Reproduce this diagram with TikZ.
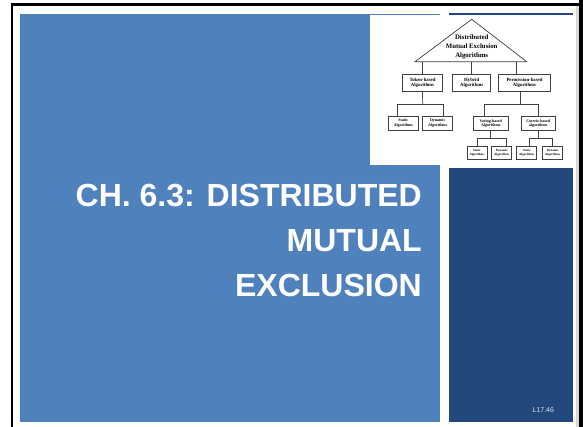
\documentclass[tikz,border=0pt]{standalone}
\usepackage{fontspec}
\setmainfont{Liberation Sans}
\newfontfamily\diagfont{Liberation Serif}
\definecolor{slideblue}{RGB}{79,129,189}
\definecolor{darkblue}{RGB}{35,72,124}
\begin{document}
\begin{tikzpicture}[x=1pt,y=-1pt,
  algbox/.style={draw=black!75, line width=0.7pt, fill=white, inner sep=0pt, align=center, minimum height=17.4pt, font=\diagfont\bfseries\fontsize{4.8}{5.5}\selectfont},
  subbox/.style={algbox, minimum height=14pt, font=\diagfont\bfseries\fontsize{4}{4.7}\selectfont},
  leafbox/.style={algbox, minimum width=20pt, minimum height=13.3pt, font=\diagfont\bfseries\fontsize{3.1}{4.5}\selectfont},
  link/.style={draw=black!75, line width=0.7pt},
  title/.style={anchor=base east, inner sep=0pt, text=white, font=\bfseries\fontsize{32}{32}\selectfont}]
\useasboundingbox (0,0) rectangle (583,427);
\fill[black] (11,3) rectangle (583,6);
\fill[black] (11,3) rectangle (13,427);
\fill[black!15] (576,6) rectangle (579,427);
\fill[black] (579,0) rectangle (583,427);
\fill[slideblue] (20,14) rectangle (440,422);
\fill[darkblue] (449,168) rectangle (573,422);
\fill[darkblue] (449,13.5) rectangle (573,15.5);
\fill[white] (370,15) rectangle (575,165);
\coordinate (apex) at (471.7,19.3);
\coordinate (tribase) at (471.7,61.7);
\draw[link] (apex) -- (415,61.7) -- (526.7,61.7) -- cycle;
\node[font=\diagfont\bfseries\fontsize{6.8}{8.8}\selectfont, align=center, inner sep=0pt] (root) at (471.7,47) {Distributed\\Mutual Exclusion\\Algorithms};
\node[algbox, minimum width=40.4pt] (token) at (422.5,83) {Token-based\\Algorithms};
\node[algbox, minimum width=38pt] (hybrid) at (471.7,83) {Hybrid\\Algorithms};
\node[algbox, minimum width=52.4pt] (perm) at (524.5,83) {Permission-based\\Algorithms};
\foreach \n in {token,hybrid} \draw[link] (\n.north) -- (\n.north |- tribase);
\draw[link] ([xshift=-8pt]perm.north) -- ([xshift=-8pt]perm.north |- tribase);
\node[subbox, minimum width=30pt] (tstatic) at (403.3,123) {Static\\Algorithms};
\node[subbox, minimum width=30pt] (tdynamic) at (437.7,123) {Dynamic\\Algorithms};
\node[subbox, minimum width=35pt] (voting) at (490.8,123.7) {Voting-based\\Algorithms};
\node[subbox, minimum width=34.3pt] (coterie) at (538.2,123.7) {Coterie-based\\algorithms};
\coordinate (tokbus) at (422.7,104.3);
\draw[link] (token.south) -- (tokbus);
\draw[link] ([xshift=-6pt]tstatic.north) |- (tokbus) -| ([xshift=5.6pt]tdynamic.north);
\coordinate (permbus) at (520,104.3);
\draw[link] ([xshift=-4.5pt]perm.south) -- (permbus);
\draw[link] ([xshift=-6.8pt]voting.north) |- (permbus) -| (coterie.north);
\node[leafbox] (vstatic) at (477,152.7) {Static\\Algorithms};
\node[leafbox] (vdynamic) at (501.7,152.7) {Dynamic\\Algorithms};
\node[leafbox] (cstatic) at (526.7,152.7) {Static\\Algorithms};
\node[leafbox] (cdynamic) at (552.7,152.7) {Dynamic\\Algorithms};
\coordinate (votbus) at (490.8,138.3);
\draw[link] (voting.south) -- (votbus);
\draw[link] (vstatic.north) |- (votbus) -| ([xshift=5pt]vdynamic.north);
\coordinate (cotbus) at (538.2,138.3);
\draw[link] (coterie.south) -- (cotbus);
\draw[link] ([xshift=2.6pt]cstatic.north) |- (cotbus) -| (cdynamic.north);
\node[title] (line1) at (422,206.5) {CH. 6.3: DISTRIBUTED};
\node[title] (line2) at (422,251.5) {MUTUAL};
\node[title] (line3) at (422,296.5) {EXCLUSION};
\node[text=white!85!darkblue, font=\fontsize{7}{8}\selectfont, inner sep=0pt] (slidenum) at (543.3,409.8) {L17.46};
\end{tikzpicture}
\end{document}
